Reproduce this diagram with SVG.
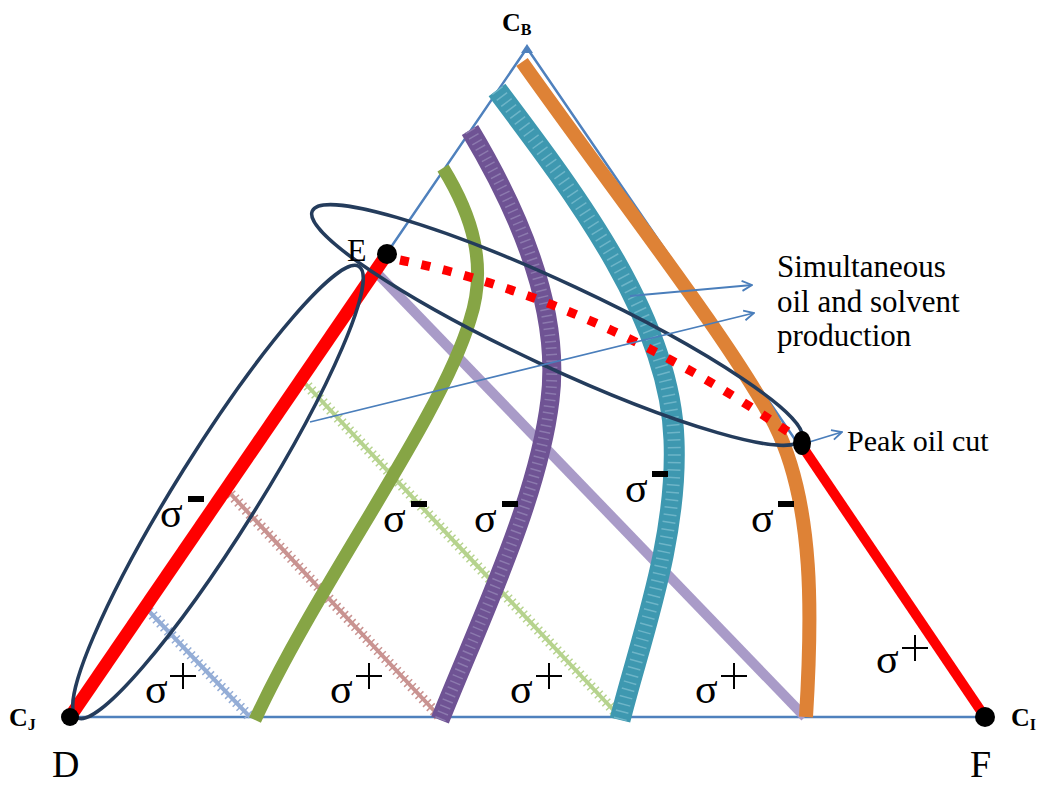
<svg xmlns="http://www.w3.org/2000/svg" width="1046" height="787" viewBox="0 0 1046 787">
<defs>
<style>
.edge{fill:none;stroke:#4f81bd;stroke-width:2.5}
.band{fill:none;stroke-linecap:butt}
.tie{fill:none}
.tick{fill:none;stroke-width:11;stroke-dasharray:1.5 4}
.ell{fill:none;stroke:#243c5c;stroke-width:3.5}
.arr{fill:none;stroke:#4a7ebb;stroke-width:1.8}
.lbl{font-family:"Liberation Serif","Times New Roman",serif;fill:#000}
.sig{font-family:"Liberation Serif","Times New Roman",serif;font-size:42px;fill:#000}
.dot{fill:#000}
</style>
<marker id="ah" viewBox="0 0 12 12" refX="11" refY="6" markerWidth="12" markerHeight="12" markerUnits="userSpaceOnUse" orient="auto">
<path d="M1,1 L11,6 L1,11" fill="none" stroke="#4a7ebb" stroke-width="1.8"/>
</marker>
</defs>
<rect width="1046" height="787" fill="#fff"/>
<g id="triangle">
<path class="edge" d="M70,717 L985,717"/>
<path class="edge" d="M70,717 L527,48 L985,717"/>
<path d="M521,53 L527,44 L533,53 Z" fill="#4f81bd"/>
</g>
<g id="connectors">
<!-- tie lines -->
<path class="tie" stroke="#94add6" stroke-width="4" d="M145,607 L250,717"/>
<path class="tick" stroke="#94add6" d="M145,607 L250,717"/>
<path class="tie" stroke="#c99391" stroke-width="4" d="M227,490 L440,717"/>
<path class="tick" stroke="#c99391" d="M227,490 L440,717"/>
<path class="tie" stroke="#b6d38e" stroke-width="4" d="M300,378 L620,717"/>
<path class="tick" stroke="#b6d38e" d="M300,378 L620,717"/>
<path class="tie" stroke="#a99bc8" stroke-width="10" d="M374,270 L805,717"/>
<!-- bands -->
<path class="band" stroke="#86a545" stroke-width="13" d="M443,168 C472,215 488,265 470,320 C440,420 320,580 255,720"/>
<path class="band" stroke="#6f5394" stroke-width="19" d="M470,130 C530,230 560,320 550,400 C538,500 480,620 440,720"/>
<path class="band" stroke="#8c7aae" stroke-width="11" stroke-dasharray="1.5 5" d="M470,130 C530,230 560,320 550,400 C538,500 480,620 440,720"/>
<path class="band" stroke="#3e98b0" stroke-width="21" d="M497,90 C580,200 670,320 674,440 C678,540 640,640 620,720"/>
<path class="band" stroke="#6eb5c8" stroke-width="13" stroke-dasharray="1.5 6" d="M497,90 C580,200 670,320 674,440 C678,540 640,640 620,720"/>
<path class="band" stroke="#de8236" stroke-width="14" stroke-linecap="round" d="M522,62 C620,200 730,340 775,425 C815,505 812,620 806,717"/>
<!-- red path -->
<path fill="none" stroke="#ff0000" stroke-width="13" d="M72,714 L387,254"/>
<path fill="none" stroke="#ff0000" stroke-width="9" stroke-dasharray="9 13" d="M400,260 Q600,300 800,440"/>
<path fill="none" stroke="#ff0000" stroke-width="10" d="M800,443 L985,717"/>
<!-- ellipses -->
<ellipse class="ell" cx="218" cy="492" rx="266" ry="41" transform="rotate(-58 218 492)"/>
<ellipse class="ell" cx="557" cy="325" rx="270" ry="42" transform="rotate(25 557 325)"/>
<!-- arrows -->
<path class="arr" marker-end="url(#ah)" d="M630,296 L752,285"/>
<path class="arr" marker-end="url(#ah)" d="M310,422 L754,313"/>
<path class="arr" marker-end="url(#ah)" d="M806,443 L842,432"/>
</g>
<g id="points">
<circle class="dot" cx="70" cy="717" r="9"/>
<circle class="dot" cx="387" cy="254" r="10"/>
<ellipse class="dot" cx="802" cy="443" rx="9" ry="12"/>
<circle class="dot" cx="985" cy="717" r="10"/>
</g>
<g id="labels">
<text class="lbl" x="502" y="31" font-size="26" font-weight="bold">C<tspan font-size="16" dy="4">B</tspan></text>
<text class="lbl" x="9" y="726" font-size="26" font-weight="bold">C<tspan font-size="16" dy="4">J</tspan></text>
<text class="lbl" x="1011" y="726" font-size="26" font-weight="bold">C<tspan font-size="16" dy="4">I</tspan></text>
<text class="lbl" x="52" y="777" font-size="38">D</text>
<text class="lbl" x="970" y="777" font-size="38">F</text>
<text class="lbl" x="347" y="261" font-size="32">E</text>
<text class="lbl" x="777" y="277" font-size="31">Simultaneous</text>
<text class="lbl" x="777" y="312" font-size="31">oil and solvent</text>
<text class="lbl" x="777" y="346" font-size="31">production</text>
<text class="lbl" x="847" y="451" font-size="30">Peak oil cut</text>
</g>
<g id="sigma-labels">
<text class="sig" x="160" y="527">σ</text><rect x="188" y="496" width="16" height="6"/>
<text class="sig" x="383" y="532">σ</text><rect x="411" y="501" width="16" height="6"/>
<text class="sig" x="474" y="532">σ</text><rect x="502" y="501" width="16" height="6"/>
<text class="sig" x="625" y="502">σ</text><rect x="652" y="471" width="16" height="6"/>
<text class="sig" x="751" y="532">σ</text><rect x="778" y="501" width="16" height="6"/>
<text class="sig" x="145" y="703">σ</text><path d="M170,676 H196 M183,663 V689" stroke="#000" stroke-width="2"/>
<text class="sig" x="330" y="703">σ</text><path d="M356,676 H382 M369,663 V689" stroke="#000" stroke-width="2"/>
<text class="sig" x="510" y="703">σ</text><path d="M536,676 H562 M549,663 V689" stroke="#000" stroke-width="2"/>
<text class="sig" x="695" y="703">σ</text><path d="M721,676 H747 M734,663 V689" stroke="#000" stroke-width="2"/>
<text class="sig" x="876" y="673">σ</text><path d="M902,648 H928 M915,635 V661" stroke="#000" stroke-width="2"/>
</g>
</svg>
